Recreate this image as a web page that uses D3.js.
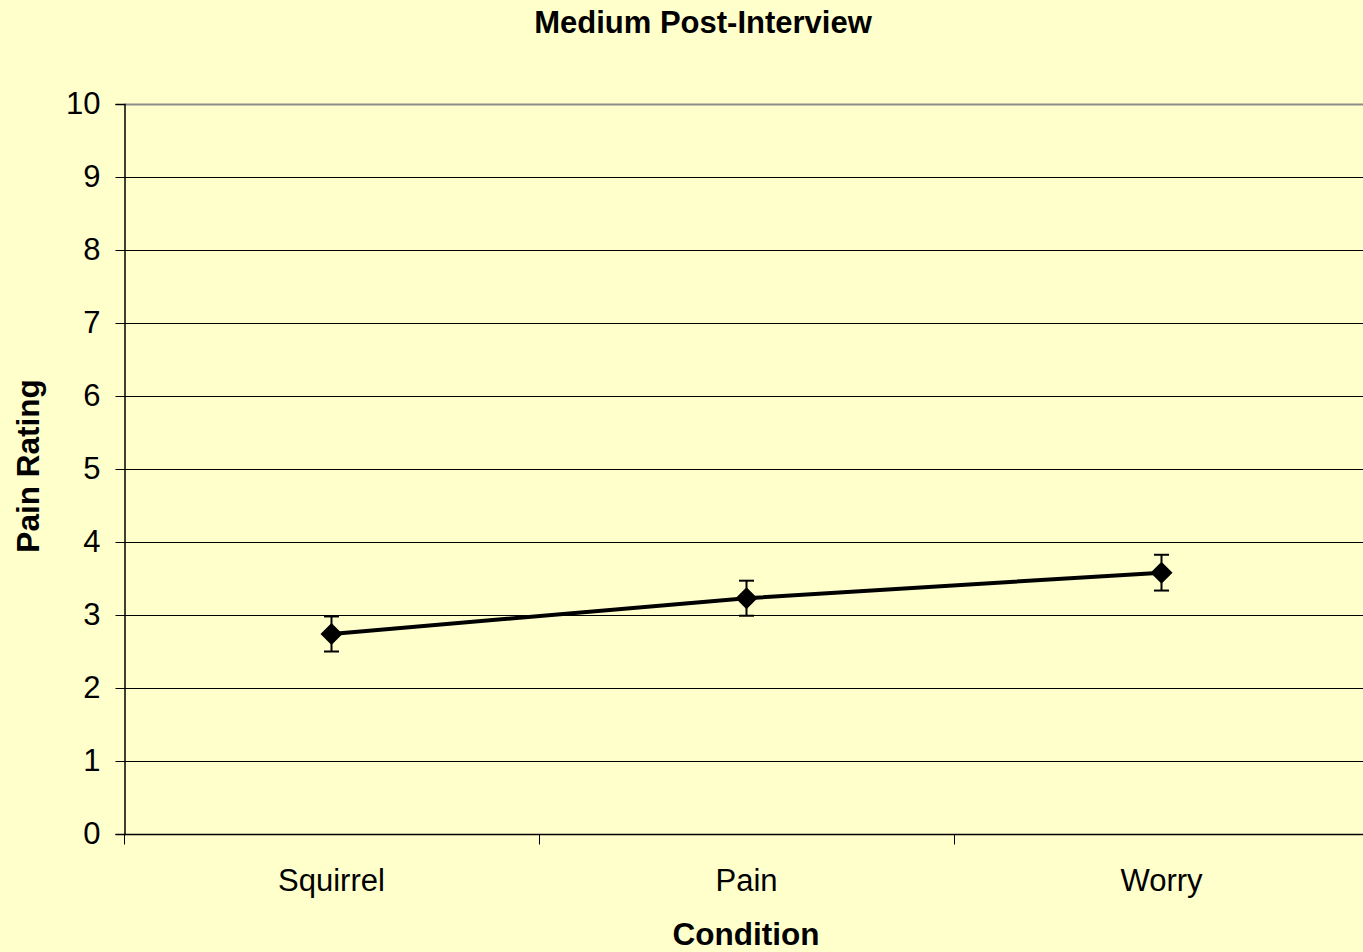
<!DOCTYPE html>
<html>
<head>
<meta charset="utf-8">
<script src="https://cdn.jsdelivr.net/npm/d3@7"></script>
<style>
  html, body { margin: 0; padding: 0; background: #ffffcc; }
  svg { display: block; font-family: "Liberation Sans", Arial, sans-serif; }
</style>
</head>
<body>
<div id="chart"></div>
<script>
const conditions = ['Squirrel', 'Pain', 'Worry'];
const means = [2.74, 3.23, 3.58];
const errors = [0.24, 0.24, 0.245];
const yTicks = [0, 1, 2, 3, 4, 5, 6, 7, 8, 9, 10];

const width = 1363, height = 952;
const margin = {top: 104, left: 124, bottom: 118, right: -6};

const svg = d3.select('#chart')
  .append('svg')
  .attr('width', width)
  .attr('height', height);

svg.append('rect')
  .attr('width', width)
  .attr('height', height)
  .attr('fill', '#ffffcc');

const x = d3.scaleBand()
  .domain(conditions)
  .range([margin.left, width - margin.right]);

const y = d3.scaleLinear()
  .domain([0, 10])
  .range([height - margin.bottom, margin.top]);

// gridlines
svg.append('g')
  .selectAll('line')
  .data(yTicks.filter(d => d > 0))
  .join('line')
  .attr('x1', margin.left)
  .attr('x2', width)
  .attr('y1', d => y(d) + 0.5)
  .attr('y2', d => y(d) + 0.5)
  .attr('stroke', d => d === 10 ? '#8c8c8c' : '#000')
  .attr('stroke-width', d => d === 10 ? 2 : 1);

// y axis
const yAxis = svg.append('g')
  .attr('transform', `translate(${margin.left + 0.5},0)`)
  .call(d3.axisLeft(y).tickValues(yTicks).tickSize(9).tickPadding(15).tickFormat(d3.format('d')));
yAxis.select('.domain').attr('stroke', '#000').attr('stroke-width', 1.5);
yAxis.selectAll('.tick line').attr('stroke', '#000');
yAxis.selectAll('text').attr('font-size', 31).attr('fill', '#000')
  .attr('font-family', '"Liberation Sans", Arial, sans-serif');

// x axis
const xAxis = svg.append('g')
  .attr('transform', `translate(0,${height - margin.bottom + 0.5})`);
xAxis.append('line')
  .attr('x1', margin.left)
  .attr('x2', width)
  .attr('stroke', '#000')
  .attr('stroke-width', 1.5);
xAxis.selectAll('line.tick')
  .data(conditions)
  .join('line')
  .attr('class', 'tick')
  .attr('x1', d => x(d) + 0.5)
  .attr('x2', d => x(d) + 0.5)
  .attr('y1', 0)
  .attr('y2', 10)
  .attr('stroke', '#000');
xAxis.selectAll('text')
  .data(conditions)
  .join('text')
  .attr('x', d => x(d) + x.bandwidth() / 2)
  .attr('y', 56)
  .attr('text-anchor', 'middle')
  .attr('font-size', 31)
  .text(d => d);

// line
const line = d3.line()
  .x((d, i) => x(conditions[i]) + x.bandwidth() / 2)
  .y(d => y(d));

svg.append('path')
  .datum(means)
  .attr('d', line)
  .attr('fill', 'none')
  .attr('stroke', '#000')
  .attr('stroke-width', 4);

// error bars
const eb = svg.append('g')
  .selectAll('g')
  .data(means)
  .join('g')
  .attr('transform', (d, i) => `translate(${x(conditions[i]) + x.bandwidth() / 2},0)`);

eb.append('line')
  .attr('y1', (d, i) => y(d + errors[i]))
  .attr('y2', (d, i) => y(d - errors[i]))
  .attr('stroke', '#000')
  .attr('stroke-width', 2);
eb.append('line')
  .attr('x1', -7.5).attr('x2', 7.5)
  .attr('y1', (d, i) => y(d + errors[i]))
  .attr('y2', (d, i) => y(d + errors[i]))
  .attr('stroke', '#000')
  .attr('stroke-width', 2);
eb.append('line')
  .attr('x1', -7.5).attr('x2', 7.5)
  .attr('y1', (d, i) => y(d - errors[i]))
  .attr('y2', (d, i) => y(d - errors[i]))
  .attr('stroke', '#000')
  .attr('stroke-width', 2);

// diamonds
eb.append('path')
  .attr('transform', d => `translate(0,${y(d)})`)
  .attr('d', 'M0,-11L11,0L0,11L-11,0Z')
  .attr('fill', '#000');

// titles
svg.append('text')
  .attr('x', 703)
  .attr('y', 33)
  .attr('text-anchor', 'middle')
  .attr('font-size', 31)
  .attr('font-weight', 'bold')
  .text('Medium Post-Interview');

svg.append('text')
  .attr('x', 746)
  .attr('y', 945)
  .attr('text-anchor', 'middle')
  .attr('font-size', 31.5)
  .attr('font-weight', 'bold')
  .text('Condition');

svg.append('text')
  .attr('transform', 'translate(39,466) rotate(-90)')
  .attr('text-anchor', 'middle')
  .attr('font-size', 31.5)
  .attr('font-weight', 'bold')
  .text('Pain Rating');
</script>
</body>
</html>
